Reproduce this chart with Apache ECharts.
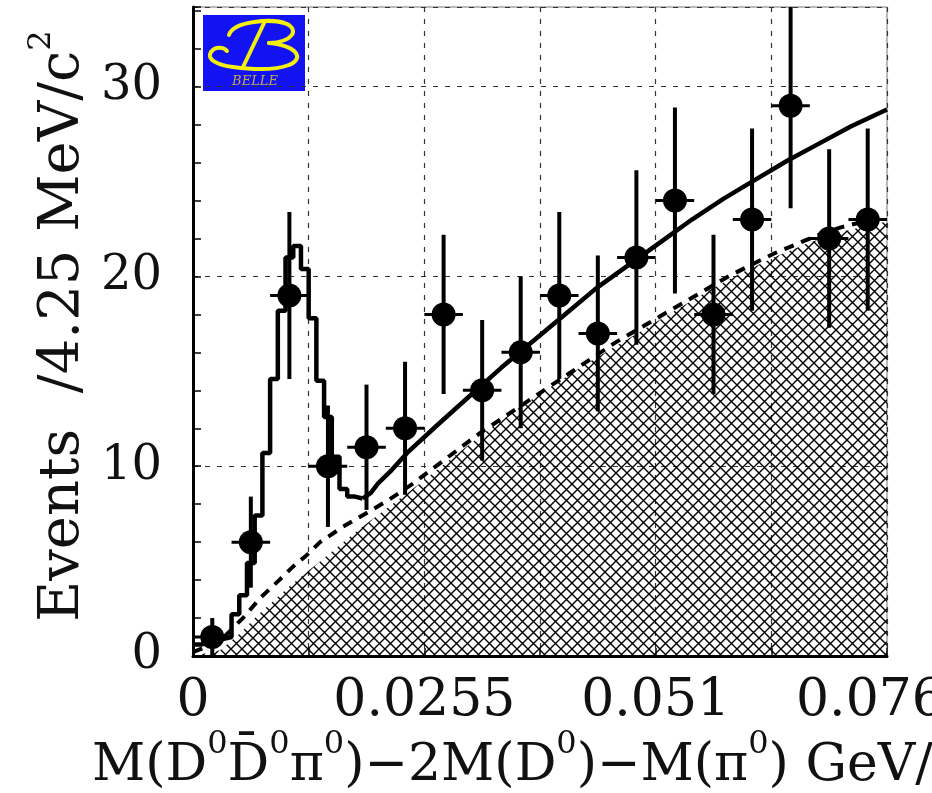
<!DOCTYPE html>
<html>
<head>
<meta charset="utf-8">
<style>
  html, body { margin: 0; padding: 0; background: #fff; }
  #chart { width: 932px; height: 793px; }
</style>
<script src="https://cdn.jsdelivr.net/npm/echarts@6/dist/echarts.min.js"></script>
</head>
<body>
<div id="chart"></div>
<script>
// Measured events per 4.25 MeV/c^2 bin (bin centres in GeV) and their errors
const binCenters = [0.002125, 0.006375, 0.010625, 0.014875, 0.019125, 0.023375,
                    0.027625, 0.031875, 0.036125, 0.040375, 0.044625, 0.048875,
                    0.053125, 0.057375, 0.061625, 0.065875, 0.070125, 0.074375];
const counts    = [1, 6, 19, 10, 11, 12, 18, 14, 16, 19, 17, 21, 24, 18, 23, 29, 22, 23];
const countErrs = [1.0, 2.4, 4.4, 3.2, 3.3, 3.5, 4.2, 3.7, 4.0, 4.4, 4.1, 4.6, 4.9, 4.2, 4.8, 5.4, 4.7, 4.8];
const halfBinWidth = 0.002125;

// Total fit, signal region drawn as a fine histogram (left bin edges, contents)
const fitPeakEdges  = [0, 0.00085, 0.0017, 0.00255, 0.0034, 0.00425, 0.0051, 0.00595,
                       0.0068, 0.00765, 0.0085, 0.00935, 0.0102, 0.01105, 0.0119,
                       0.01275, 0.0136, 0.01445, 0.0153, 0.01615, 0.017, 0.01785, 0.0187];
const fitPeakValues = [0.6, 0.7, 0.8, 0.9, 1.0, 2.2, 3.2, 4.9, 7.4, 10.7, 14.6, 18.2,
                       21.0, 21.6, 20.4, 17.8, 14.5, 12.6, 10.5, 8.8, 8.4, 8.3, 8.3];

// Total fit above the signal region
const fitTailX = [0.0187, 0.0196, 0.0204, 0.0219, 0.0236, 0.027, 0.0305, 0.034, 0.0375,
                  0.041, 0.0445, 0.048, 0.0515, 0.055, 0.0585, 0.062, 0.0655, 0.069,
                  0.0725, 0.0765];
const fitTailY = [8.3, 8.6, 9.1, 9.8, 10.7, 12.2, 13.7, 15.2, 16.6,
                  18.0, 19.4, 20.6, 21.8, 23.0, 24.1, 25.1, 26.1, 27.0,
                  27.9, 28.8];

// Background function (dashed)
const bkgX = [0, 0.003, 0.0055, 0.0075, 0.0095, 0.011, 0.0125, 0.014, 0.0165, 0.019,
              0.0215, 0.024, 0.0265, 0.029, 0.0315, 0.034, 0.0365, 0.039, 0.0415, 0.044,
              0.0465, 0.049, 0.0515, 0.054, 0.0565, 0.059, 0.0615, 0.064, 0.0665, 0.069,
              0.0715, 0.074, 0.0765];
const bkgY = [0.2, 0.8, 2.0, 3.1, 4.0, 4.7, 5.3, 6.0, 6.8, 7.5,
              8.2, 9.0, 9.9, 10.8, 11.7, 12.5, 13.3, 14.1, 14.9, 15.7,
              16.5, 17.2, 17.9, 18.6, 19.3, 20.0, 20.6, 21.2, 21.7, 22.2,
              22.6, 22.9, 23.1];

// Hatched background component
const hatchX = [0, 0.003, 0.0052, 0.007, 0.0107, 0.0143, 0.0181, 0.0217, 0.0253, 0.029,
                0.0325, 0.036, 0.0395, 0.043, 0.0465, 0.05, 0.0535, 0.057, 0.0605, 0.064,
                0.0675, 0.071, 0.0765];
const hatchY = [0, 0.3, 1.2, 2.1, 3.7, 5.1, 6.6, 7.9, 9.2, 10.6,
                11.9, 13.1, 14.2, 15.3, 16.3, 17.3, 18.3, 19.3, 20.2, 21.0,
                21.7, 22.3, 22.9];

// Axis tick labels
const xTickValues = [0, 0.0255, 0.051, 0.0765];
const xTickLabels = ['0', '0.0255', '0.051', '0.0765'];
const yTickValues = [0, 10, 20, 30];
const yTickLabels = ['0', '10', '20', '30'];

const SERIF = "'DejaVu Serif', 'Liberation Serif', serif";
const LOGO_YELLOW = '#f2ee10';

function zip(xs, ys) { return xs.map((x, i) => [x, ys[i]]); }
function lookupLabel(v, values, labels, tol) {
  for (let i = 0; i < values.length; i++) {
    if (Math.abs(v - values[i]) < tol) return labels[i];
  }
  return '';
}

// Cross-hatch fill pattern (diagonal mesh, transparent cells)
function makeHatch() {
  const s = 11;
  const c = document.createElement('canvas');
  c.width = s; c.height = s;
  const g = c.getContext('2d');
  g.strokeStyle = '#000';
  g.lineWidth = 1.4;
  g.beginPath();
  g.moveTo(0, 0); g.lineTo(s, s);
  g.moveTo(s, 0); g.lineTo(0, s);
  g.stroke();
  return c;
}

// One stroke of the logo's script "B"
function logoCurve(x1, y1, cpx1, cpy1, cpx2, cpy2, x2, y2) {
  return {
    type: 'bezierCurve',
    shape: { x1, y1, cpx1, cpy1, cpx2, cpy2, x2, y2 },
    style: { stroke: LOGO_YELLOW, lineWidth: 4, fill: null, lineCap: 'round' }
  };
}

const chart = echarts.init(document.getElementById('chart'), null, { renderer: 'canvas' });

const peakData = zip(fitPeakEdges, fitPeakValues);
const pointData = binCenters.map((x, i) => [x, counts[i], countErrs[i]]);

const supStyle = { fontFamily: SERIF, fontSize: 32, lineHeight: 34, verticalAlign: 'top', fill: '#111' };

const option = {
  animation: false,
  backgroundColor: '#fff',
  grid: {
    left: 193, right: 45, top: 7, bottom: 137,
    show: true, borderColor: '#777', borderWidth: 1,
    outerBoundsMode: 'none'
  },
  xAxis: {
    type: 'value', min: 0, max: 0.0765, interval: 0.01275,
    axisLine: { show: true, onZero: false, lineStyle: { color: '#000', width: 3 } },
    axisTick: { show: true, inside: true, length: 8, lineStyle: { color: '#000', width: 1.5 } },
    axisLabel: {
      margin: 19, fontFamily: SERIF, fontSize: 52, color: '#111',
      formatter: v => lookupLabel(v, xTickValues, xTickLabels, 1e-6)
    },
    splitLine: { show: true, lineStyle: { type: [5, 7], color: '#333', width: 1.2 } }
  },
  yAxis: [
    {
      type: 'value', min: 0, max: 34.2, interval: 2,
      axisLine: { show: true, onZero: false, lineStyle: { color: '#000', width: 3 } },
      axisTick: { show: true, inside: true, length: 8, lineStyle: { color: '#000', width: 1.5 } },
      axisLabel: {
        margin: 31, fontFamily: SERIF, fontSize: 48, color: '#111',
        formatter: v => lookupLabel(v, yTickValues, yTickLabels, 1e-6)
      },
      splitLine: { show: false }
    },
    {
      type: 'value', min: 0, max: 34.2, interval: 10, position: 'left',
      axisLine: { show: false }, axisTick: { show: false }, axisLabel: { show: false },
      splitLine: { show: true, lineStyle: { type: [5, 7], color: '#333', width: 1.2 } }
    }
  ],
  graphic: [
    {
      type: 'text', x: 92, y: 766,
      style: {
        text: 'M(D{s|0}D\u0304{s|0}\u03c0{s|0})\u22122M(D{s|0})\u2212M(\u03c0{s|0}) GeV/c{s|2}',
        fontFamily: SERIF, fontSize: 52, lineHeight: 74, fill: '#111',
        verticalAlign: 'middle', align: 'left',
        rich: { s: supStyle }
      }
    },
    {
      type: 'text', x: 63, y: 326, rotation: Math.PI / 2,
      style: {
        text: 'Events  /4.25 MeV/c{s|2}',
        fontFamily: SERIF, fontSize: 56, lineHeight: 74, fill: '#111',
        align: 'center', verticalAlign: 'middle',
        rich: { s: supStyle }
      }
    },
    {
      type: 'group', x: 203, y: 15,
      children: [
        { type: 'rect', shape: { x: 0, y: 0, width: 102, height: 76 }, style: { fill: '#1212f2' } },
        logoCurve(26, 20, 30, 6, 70, 3, 84, 9),
        logoCurve(84, 9, 96, 15, 90, 27, 66, 28),
        logoCurve(66, 28, 94, 31, 102, 43, 86, 50),
        logoCurve(86, 50, 70, 56, 45, 54, 30, 52),
        logoCurve(30, 52, 14, 50, 3, 44, 8, 37),
        logoCurve(8, 37, 12, 31, 21, 32, 24, 36),
        {
          type: 'line', shape: { x1: 62, y1: 6, x2: 40, y2: 52 },
          style: { stroke: LOGO_YELLOW, lineWidth: 4, lineCap: 'round' }
        },
        {
          type: 'text', x: 52, y: 67,
          style: {
            text: 'BELLE', fontFamily: SERIF, fontStyle: 'italic', fontSize: 13,
            fill: '#bfae48', align: 'center', verticalAlign: 'middle'
          }
        }
      ]
    }
  ],
  series: [
    {
      name: 'hatched', type: 'line', data: zip(hatchX, hatchY),
      symbol: 'none', lineStyle: { width: 0 },
      areaStyle: { color: { image: makeHatch(), repeat: 'repeat' }, opacity: 1 },
      z: 1
    },
    {
      name: 'background', type: 'line', data: zip(bkgX, bkgY),
      symbol: 'none',
      lineStyle: { color: '#000', width: 4, type: [10, 8] },
      z: 3
    },
    {
      name: 'fit peak', type: 'line', data: peakData, step: 'end',
      symbol: 'none', lineStyle: { color: '#000', width: 4.5 },
      z: 4
    },
    {
      name: 'fit tail', type: 'line', data: zip(fitTailX, fitTailY),
      symbol: 'none',
      lineStyle: { color: '#000', width: 4.5 },
      z: 4
    },
    {
      name: 'errors', type: 'custom', clip: true, z: 5,
      data: pointData,
      renderItem: function (params, api) {
        const x = api.value(0), y = api.value(1), e = api.value(2);
        const top = api.coord([x, y + e]);
        const bot = api.coord([x, Math.max(0, y - e)]);
        const lft = api.coord([x - halfBinWidth, y]);
        const rgt = api.coord([x + halfBinWidth, y]);
        return {
          type: 'group',
          children: [
            { type: 'line', shape: { x1: top[0], y1: top[1], x2: bot[0], y2: bot[1] },
              style: { stroke: '#000', lineWidth: 4 } },
            { type: 'line', shape: { x1: lft[0], y1: lft[1], x2: rgt[0], y2: rgt[1] },
              style: { stroke: '#000', lineWidth: 3 } }
          ]
        };
      },
      encode: { x: 0, y: 1 }
    },
    {
      name: 'data', type: 'scatter', data: pointData.map(p => [p[0], p[1]]),
      symbol: 'circle', symbolSize: 24, itemStyle: { color: '#000', opacity: 1 },
      z: 6
    }
  ]
};

chart.setOption(option);
</script>
</body>
</html>
